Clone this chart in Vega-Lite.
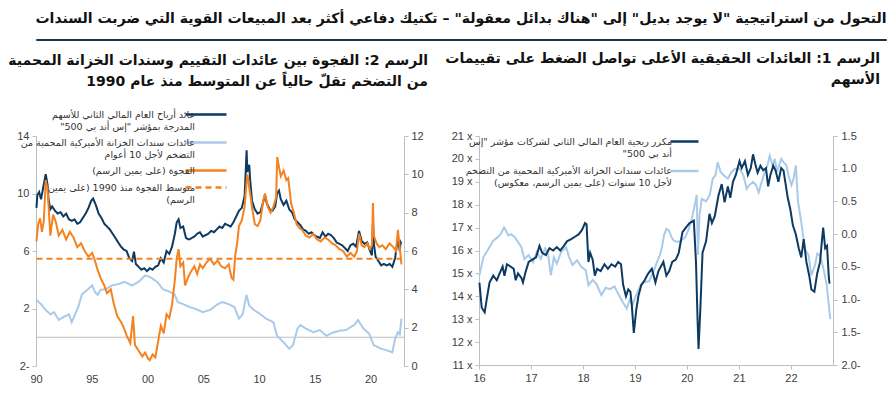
{
  "$schema": "https://vega.github.io/schema/vega-lite/v6.json",
  "padding": {"left": 8, "top": 12, "right": 4, "bottom": 4},
  "background": "white",
  "title": {
    "text": "التحول من استراتيجية \"لا يوجد بديل\" إلى \"هناك بدائل معقولة\" – تكتيك دفاعي أكثر بعد المبيعات القوية التي ضربت السندات",
    "anchor": "end", "font": "DejaVu Sans", "fontSize": 14.05, "fontWeight": "bold", "color": "#111111", "offset": 10
  },
  "config": {
    "view": {"stroke": null},
    "axis": {"grid": false, "title": null, "domainColor": "#bfbfbf", "tickColor": "#bfbfbf", "labelColor": "#404040", "labelFont": "Liberation Sans", "labelFontSize": 11, "tickSize": 4, "labelPadding": 3}
  },
  "datasets": {
    "left": [
      {"date":"1990-01-15","series":"ey","value":9.0},{"date":"1990-02-15","series":"ey","value":9.9},{"date":"1990-04-15","series":"ey","value":10.1},{"date":"1990-06-15","series":"ey","value":9.6},{"date":"1990-08-15","series":"ey","value":10.3},{"date":"1990-10-15","series":"ey","value":11.0},{"date":"1990-11-15","series":"ey","value":11.35},{"date":"1991-01-15","series":"ey","value":10.6},{"date":"1991-02-15","series":"ey","value":9.6},{"date":"1991-04-15","series":"ey","value":8.9},{"date":"1991-06-15","series":"ey","value":9.1},{"date":"1991-09-15","series":"ey","value":8.8},{"date":"1991-12-15","series":"ey","value":8.6},{"date":"1992-03-15","series":"ey","value":8.7},{"date":"1992-06-15","series":"ey","value":8.4},{"date":"1992-09-15","series":"ey","value":8.6},{"date":"1992-12-15","series":"ey","value":8.2},{"date":"1993-03-15","series":"ey","value":8.1},{"date":"1993-06-15","series":"ey","value":8.2},{"date":"1993-09-15","series":"ey","value":7.9},{"date":"1993-12-15","series":"ey","value":8.0},{"date":"1994-03-15","series":"ey","value":8.3},{"date":"1994-06-15","series":"ey","value":8.6},{"date":"1994-09-15","series":"ey","value":9.0},{"date":"1994-12-15","series":"ey","value":9.5},{"date":"1995-02-15","series":"ey","value":9.65},{"date":"1995-05-15","series":"ey","value":9.2},{"date":"1995-08-15","series":"ey","value":8.6},{"date":"1995-11-15","series":"ey","value":8.3},{"date":"1996-02-15","series":"ey","value":7.9},{"date":"1996-05-15","series":"ey","value":7.7},{"date":"1996-08-15","series":"ey","value":7.5},{"date":"1996-11-15","series":"ey","value":7.2},{"date":"1997-02-15","series":"ey","value":6.9},{"date":"1997-05-15","series":"ey","value":6.6},{"date":"1997-08-15","series":"ey","value":6.3},{"date":"1997-11-15","series":"ey","value":6.1},{"date":"1998-02-15","series":"ey","value":6.0},{"date":"1998-05-15","series":"ey","value":5.5},{"date":"1998-08-15","series":"ey","value":5.3},{"date":"1998-10-15","series":"ey","value":5.95},{"date":"1998-12-15","series":"ey","value":5.1},{"date":"1999-03-15","series":"ey","value":4.9},{"date":"1999-06-15","series":"ey","value":4.7},{"date":"1999-09-15","series":"ey","value":4.8},{"date":"1999-12-15","series":"ey","value":4.6},{"date":"2000-03-15","series":"ey","value":4.8},{"date":"2000-06-15","series":"ey","value":4.7},{"date":"2000-09-15","series":"ey","value":4.9},{"date":"2000-12-15","series":"ey","value":5.0},{"date":"2001-03-15","series":"ey","value":5.5},{"date":"2001-06-15","series":"ey","value":5.2},{"date":"2001-09-15","series":"ey","value":6.0},{"date":"2001-12-15","series":"ey","value":5.8},{"date":"2002-03-15","series":"ey","value":6.3},{"date":"2002-06-15","series":"ey","value":7.2},{"date":"2002-08-15","series":"ey","value":8.0},{"date":"2002-10-15","series":"ey","value":8.2},{"date":"2002-12-15","series":"ey","value":7.6},{"date":"2003-03-15","series":"ey","value":7.7},{"date":"2003-06-15","series":"ey","value":6.9},{"date":"2003-09-15","series":"ey","value":6.8},{"date":"2003-12-15","series":"ey","value":6.9},{"date":"2004-03-15","series":"ey","value":7.0},{"date":"2004-06-15","series":"ey","value":7.2},{"date":"2004-09-15","series":"ey","value":7.3},{"date":"2004-12-15","series":"ey","value":7.0},{"date":"2005-03-15","series":"ey","value":7.1},{"date":"2005-06-15","series":"ey","value":7.2},{"date":"2005-09-15","series":"ey","value":7.4},{"date":"2005-12-15","series":"ey","value":7.3},{"date":"2006-03-15","series":"ey","value":7.5},{"date":"2006-06-15","series":"ey","value":7.7},{"date":"2006-09-15","series":"ey","value":7.6},{"date":"2006-12-15","series":"ey","value":7.9},{"date":"2007-03-15","series":"ey","value":7.8},{"date":"2007-06-15","series":"ey","value":7.7},{"date":"2007-09-15","series":"ey","value":8.0},{"date":"2007-12-15","series":"ey","value":8.4},{"date":"2008-03-15","series":"ey","value":8.8},{"date":"2008-06-15","series":"ey","value":9.0},{"date":"2008-09-15","series":"ey","value":9.8},{"date":"2008-10-15","series":"ey","value":11.2},{"date":"2008-11-20","series":"ey","value":13.0},{"date":"2008-12-15","series":"ey","value":11.5},{"date":"2009-02-15","series":"ey","value":12.0},{"date":"2009-03-15","series":"ey","value":11.0},{"date":"2009-05-15","series":"ey","value":9.5},{"date":"2009-08-15","series":"ey","value":8.9},{"date":"2009-11-15","series":"ey","value":8.6},{"date":"2010-02-15","series":"ey","value":8.7},{"date":"2010-05-15","series":"ey","value":9.4},{"date":"2010-07-15","series":"ey","value":9.9},{"date":"2010-09-15","series":"ey","value":9.3},{"date":"2010-12-15","series":"ey","value":8.9},{"date":"2011-03-15","series":"ey","value":8.8},{"date":"2011-06-15","series":"ey","value":9.1},{"date":"2011-08-15","series":"ey","value":10.0},{"date":"2011-10-15","series":"ey","value":10.2},{"date":"2011-12-15","series":"ey","value":9.6},{"date":"2012-03-15","series":"ey","value":9.2},{"date":"2012-06-15","series":"ey","value":9.5},{"date":"2012-09-15","series":"ey","value":8.9},{"date":"2012-12-15","series":"ey","value":8.7},{"date":"2013-03-15","series":"ey","value":8.2},{"date":"2013-06-15","series":"ey","value":8.0},{"date":"2013-09-15","series":"ey","value":7.8},{"date":"2013-12-15","series":"ey","value":7.5},{"date":"2014-03-15","series":"ey","value":7.4},{"date":"2014-06-15","series":"ey","value":7.2},{"date":"2014-09-15","series":"ey","value":7.3},{"date":"2014-12-15","series":"ey","value":7.1},{"date":"2015-03-15","series":"ey","value":7.0},{"date":"2015-06-15","series":"ey","value":6.9},{"date":"2015-09-15","series":"ey","value":7.3},{"date":"2015-12-15","series":"ey","value":7.0},{"date":"2016-03-15","series":"ey","value":7.2},{"date":"2016-06-15","series":"ey","value":7.1},{"date":"2016-09-15","series":"ey","value":6.9},{"date":"2016-12-15","series":"ey","value":6.6},{"date":"2017-03-15","series":"ey","value":6.5},{"date":"2017-06-15","series":"ey","value":6.4},{"date":"2017-09-15","series":"ey","value":6.2},{"date":"2017-12-15","series":"ey","value":6.0},{"date":"2018-03-15","series":"ey","value":6.4},{"date":"2018-06-15","series":"ey","value":6.5},{"date":"2018-09-15","series":"ey","value":6.3},{"date":"2018-12-20","series":"ey","value":7.4},{"date":"2019-03-15","series":"ey","value":6.7},{"date":"2019-06-15","series":"ey","value":6.5},{"date":"2019-09-15","series":"ey","value":6.6},{"date":"2019-12-15","series":"ey","value":6.0},{"date":"2020-02-15","series":"ey","value":5.7},{"date":"2020-03-20","series":"ey","value":7.9},{"date":"2020-04-20","series":"ey","value":6.5},{"date":"2020-06-15","series":"ey","value":5.6},{"date":"2020-09-15","series":"ey","value":5.3},{"date":"2020-12-15","series":"ey","value":5.0},{"date":"2021-03-15","series":"ey","value":5.1},{"date":"2021-06-15","series":"ey","value":5.0},{"date":"2021-09-15","series":"ey","value":5.1},{"date":"2021-12-15","series":"ey","value":4.9},{"date":"2022-03-15","series":"ey","value":5.5},{"date":"2022-06-15","series":"ey","value":6.9},{"date":"2022-08-15","series":"ey","value":6.0},{"date":"2022-09-15","series":"ey","value":6.6},{"date":"2022-10-10","series":"ey","value":6.5},
      {"date":"1990-01-15","series":"tips","value":2.6},{"date":"1990-06-15","series":"tips","value":2.3},{"date":"1990-11-15","series":"tips","value":1.9},{"date":"1991-04-15","series":"tips","value":1.6},{"date":"1991-08-15","series":"tips","value":1.75},{"date":"1992-01-15","series":"tips","value":1.2},{"date":"1992-06-15","series":"tips","value":1.4},{"date":"1992-12-15","series":"tips","value":1.6},{"date":"1993-03-15","series":"tips","value":1.05},{"date":"1993-06-15","series":"tips","value":1.5},{"date":"1993-10-15","series":"tips","value":2.1},{"date":"1994-02-15","series":"tips","value":3.0},{"date":"1994-07-15","series":"tips","value":3.25},{"date":"1995-01-15","series":"tips","value":3.6},{"date":"1995-04-15","series":"tips","value":3.15},{"date":"1995-07-15","series":"tips","value":2.95},{"date":"1995-10-15","series":"tips","value":3.3},{"date":"1996-04-15","series":"tips","value":3.35},{"date":"1996-10-15","series":"tips","value":3.6},{"date":"1997-05-15","series":"tips","value":3.7},{"date":"1997-12-15","series":"tips","value":3.85},{"date":"1998-08-15","series":"tips","value":3.6},{"date":"1999-03-15","series":"tips","value":3.85},{"date":"1999-10-15","series":"tips","value":4.3},{"date":"2000-03-15","series":"tips","value":4.2},{"date":"2000-11-15","series":"tips","value":3.85},{"date":"2001-05-15","series":"tips","value":3.35},{"date":"2002-01-15","series":"tips","value":3.15},{"date":"2002-06-15","series":"tips","value":2.95},{"date":"2002-09-15","series":"tips","value":2.45},{"date":"2003-03-15","series":"tips","value":2.3},{"date":"2003-10-15","series":"tips","value":2.1},{"date":"2004-05-15","series":"tips","value":1.95},{"date":"2004-12-15","series":"tips","value":1.75},{"date":"2005-08-15","series":"tips","value":1.9},{"date":"2006-03-15","series":"tips","value":2.25},{"date":"2006-09-15","series":"tips","value":2.45},{"date":"2007-04-15","series":"tips","value":2.3},{"date":"2007-10-15","series":"tips","value":2.1},{"date":"2008-03-15","series":"tips","value":1.3},{"date":"2008-07-15","series":"tips","value":1.6},{"date":"2008-11-15","series":"tips","value":2.95},{"date":"2009-02-15","series":"tips","value":2.2},{"date":"2009-07-15","series":"tips","value":1.9},{"date":"2010-02-15","series":"tips","value":1.6},{"date":"2010-08-15","series":"tips","value":1.3},{"date":"2011-04-15","series":"tips","value":1.05},{"date":"2011-08-15","series":"tips","value":0.1},{"date":"2012-03-15","series":"tips","value":-0.35},{"date":"2012-09-15","series":"tips","value":-0.8},{"date":"2013-01-15","series":"tips","value":-0.55},{"date":"2013-06-15","series":"tips","value":0.6},{"date":"2013-09-15","series":"tips","value":0.85},{"date":"2014-03-15","series":"tips","value":0.6},{"date":"2014-11-15","series":"tips","value":0.35},{"date":"2015-06-15","series":"tips","value":0.5},{"date":"2016-01-15","series":"tips","value":0.1},{"date":"2016-07-15","series":"tips","value":0.3},{"date":"2017-03-15","series":"tips","value":0.45},{"date":"2017-10-15","series":"tips","value":0.5},{"date":"2018-07-15","series":"tips","value":0.85},{"date":"2018-11-15","series":"tips","value":1.2},{"date":"2019-05-15","series":"tips","value":0.6},{"date":"2019-11-15","series":"tips","value":0.25},{"date":"2020-04-15","series":"tips","value":-0.55},{"date":"2020-12-15","series":"tips","value":-0.8},{"date":"2021-06-15","series":"tips","value":-0.9},{"date":"2021-12-15","series":"tips","value":-1.05},{"date":"2022-03-15","series":"tips","value":-0.1},{"date":"2022-06-15","series":"tips","value":0.35},{"date":"2022-08-15","series":"tips","value":0.2},{"date":"2022-10-10","series":"tips","value":1.3},
      {"date":"1990-01-15","series":"gap","value":6.5},{"date":"1990-03-15","series":"gap","value":7.4},{"date":"1990-05-15","series":"gap","value":7.7},{"date":"1990-07-15","series":"gap","value":7.0},{"date":"1990-09-15","series":"gap","value":7.6},{"date":"1990-11-15","series":"gap","value":9.7},{"date":"1991-01-15","series":"gap","value":9.2},{"date":"1991-02-15","series":"gap","value":8.4},{"date":"1991-04-15","series":"gap","value":6.8},{"date":"1991-07-15","series":"gap","value":7.9},{"date":"1991-10-15","series":"gap","value":7.5},{"date":"1992-01-15","series":"gap","value":6.8},{"date":"1992-05-15","series":"gap","value":7.1},{"date":"1992-09-15","series":"gap","value":6.6},{"date":"1993-01-15","series":"gap","value":7.0},{"date":"1993-05-15","series":"gap","value":6.7},{"date":"1993-09-15","series":"gap","value":6.2},{"date":"1994-01-15","series":"gap","value":6.4},{"date":"1994-05-15","series":"gap","value":6.0},{"date":"1994-09-15","series":"gap","value":5.7},{"date":"1995-01-15","series":"gap","value":5.9},{"date":"1995-04-15","series":"gap","value":5.5},{"date":"1995-07-15","series":"gap","value":5.0},{"date":"1995-10-15","series":"gap","value":4.6},{"date":"1996-02-15","series":"gap","value":4.2},{"date":"1996-05-15","series":"gap","value":3.8},{"date":"1996-09-15","series":"gap","value":4.0},{"date":"1996-12-15","series":"gap","value":3.3},{"date":"1997-04-15","series":"gap","value":2.6},{"date":"1997-08-15","series":"gap","value":2.3},{"date":"1997-11-15","series":"gap","value":2.0},{"date":"1998-02-15","series":"gap","value":1.6},{"date":"1998-06-15","series":"gap","value":1.2},{"date":"1998-09-15","series":"gap","value":2.6},{"date":"1998-11-15","series":"gap","value":1.1},{"date":"1999-03-15","series":"gap","value":0.8},{"date":"1999-07-15","series":"gap","value":0.5},{"date":"1999-10-15","series":"gap","value":0.7},{"date":"2000-01-15","series":"gap","value":0.4},{"date":"2000-03-15","series":"gap","value":0.3},{"date":"2000-06-15","series":"gap","value":0.6},{"date":"2000-09-15","series":"gap","value":0.45},{"date":"2000-12-15","series":"gap","value":1.3},{"date":"2001-03-15","series":"gap","value":2.1},{"date":"2001-06-15","series":"gap","value":1.7},{"date":"2001-09-15","series":"gap","value":2.7},{"date":"2001-12-15","series":"gap","value":2.5},{"date":"2002-03-15","series":"gap","value":3.2},{"date":"2002-06-15","series":"gap","value":4.5},{"date":"2002-08-15","series":"gap","value":5.6},{"date":"2002-10-15","series":"gap","value":6.1},{"date":"2002-12-15","series":"gap","value":5.2},{"date":"2003-03-15","series":"gap","value":5.4},{"date":"2003-05-15","series":"gap","value":4.2},{"date":"2003-08-15","series":"gap","value":4.6},{"date":"2003-11-15","series":"gap","value":4.9},{"date":"2004-03-15","series":"gap","value":5.2},{"date":"2004-06-15","series":"gap","value":4.8},{"date":"2004-09-15","series":"gap","value":5.3},{"date":"2004-12-15","series":"gap","value":5.1},{"date":"2005-04-15","series":"gap","value":5.4},{"date":"2005-08-15","series":"gap","value":5.6},{"date":"2005-12-15","series":"gap","value":5.3},{"date":"2006-04-15","series":"gap","value":5.5},{"date":"2006-08-15","series":"gap","value":5.2},{"date":"2006-12-15","series":"gap","value":5.1},{"date":"2007-04-15","series":"gap","value":5.3},{"date":"2007-07-15","series":"gap","value":4.6},{"date":"2007-09-15","series":"gap","value":4.5},{"date":"2007-11-15","series":"gap","value":5.8},{"date":"2008-01-15","series":"gap","value":6.4},{"date":"2008-03-15","series":"gap","value":7.3},{"date":"2008-06-15","series":"gap","value":7.6},{"date":"2008-09-15","series":"gap","value":8.3},{"date":"2008-11-15","series":"gap","value":9.5},{"date":"2008-12-15","series":"gap","value":10.0},{"date":"2009-03-15","series":"gap","value":9.0},{"date":"2009-05-15","series":"gap","value":8.3},{"date":"2009-08-15","series":"gap","value":7.4},{"date":"2009-11-15","series":"gap","value":7.3},{"date":"2010-02-15","series":"gap","value":7.6},{"date":"2010-05-15","series":"gap","value":8.6},{"date":"2010-07-15","series":"gap","value":9.0},{"date":"2010-10-15","series":"gap","value":8.3},{"date":"2011-01-15","series":"gap","value":8.0},{"date":"2011-04-15","series":"gap","value":8.3},{"date":"2011-07-15","series":"gap","value":8.8},{"date":"2011-08-20","series":"gap","value":10.9},{"date":"2011-10-15","series":"gap","value":10.4},{"date":"2011-12-15","series":"gap","value":9.9},{"date":"2012-03-15","series":"gap","value":10.2},{"date":"2012-06-15","series":"gap","value":9.7},{"date":"2012-08-15","series":"gap","value":9.8},{"date":"2012-11-15","series":"gap","value":8.5},{"date":"2013-02-15","series":"gap","value":8.0},{"date":"2013-05-15","series":"gap","value":7.4},{"date":"2013-08-15","series":"gap","value":7.2},{"date":"2013-11-15","series":"gap","value":7.1},{"date":"2014-03-15","series":"gap","value":6.8},{"date":"2014-07-15","series":"gap","value":6.7},{"date":"2014-11-15","series":"gap","value":6.9},{"date":"2015-03-15","series":"gap","value":6.6},{"date":"2015-07-15","series":"gap","value":6.5},{"date":"2015-11-15","series":"gap","value":6.7},{"date":"2016-03-15","series":"gap","value":6.6},{"date":"2016-07-15","series":"gap","value":6.4},{"date":"2016-11-15","series":"gap","value":6.3},{"date":"2017-03-15","series":"gap","value":6.1},{"date":"2017-07-15","series":"gap","value":6.0},{"date":"2017-11-15","series":"gap","value":5.7},{"date":"2018-03-15","series":"gap","value":5.9},{"date":"2018-07-15","series":"gap","value":5.7},{"date":"2018-10-15","series":"gap","value":6.0},{"date":"2018-12-20","series":"gap","value":6.9},{"date":"2019-03-15","series":"gap","value":6.3},{"date":"2019-06-15","series":"gap","value":6.2},{"date":"2019-09-15","series":"gap","value":6.4},{"date":"2019-12-15","series":"gap","value":6.1},{"date":"2020-02-15","series":"gap","value":6.3},{"date":"2020-03-20","series":"gap","value":8.5},{"date":"2020-04-20","series":"gap","value":6.8},{"date":"2020-07-15","series":"gap","value":6.4},{"date":"2020-10-15","series":"gap","value":6.2},{"date":"2021-01-15","series":"gap","value":6.3},{"date":"2021-05-15","series":"gap","value":6.1},{"date":"2021-09-15","series":"gap","value":6.4},{"date":"2022-01-15","series":"gap","value":6.2},{"date":"2022-04-15","series":"gap","value":6.0},{"date":"2022-06-15","series":"gap","value":7.1},{"date":"2022-08-15","series":"gap","value":6.2},{"date":"2022-09-15","series":"gap","value":5.7},{"date":"2022-10-10","series":"gap","value":5.3},
      {"date":"1990-01-15","series":"avg","value":5.6},{"date":"2022-10-10","series":"avg","value":5.6}
    ],
    "right": [
      {"date":"2016-01-04","series":"pe","value":14.6},{"date":"2016-01-20","series":"pe","value":13.5},{"date":"2016-02-10","series":"pe","value":13.3},{"date":"2016-02-25","series":"pe","value":13.9},{"date":"2016-03-15","series":"pe","value":14.6},{"date":"2016-04-10","series":"pe","value":14.9},{"date":"2016-05-05","series":"pe","value":14.7},{"date":"2016-05-25","series":"pe","value":15.0},{"date":"2016-06-15","series":"pe","value":15.3},{"date":"2016-06-28","series":"pe","value":14.9},{"date":"2016-07-15","series":"pe","value":15.4},{"date":"2016-08-10","series":"pe","value":15.3},{"date":"2016-09-01","series":"pe","value":15.2},{"date":"2016-09-15","series":"pe","value":14.7},{"date":"2016-10-01","series":"pe","value":15.0},{"date":"2016-10-25","series":"pe","value":14.8},{"date":"2016-11-05","series":"pe","value":14.6},{"date":"2016-11-25","series":"pe","value":15.1},{"date":"2016-12-15","series":"pe","value":15.5},{"date":"2017-01-10","series":"pe","value":15.6},{"date":"2017-02-05","series":"pe","value":15.7},{"date":"2017-03-01","series":"pe","value":16.2},{"date":"2017-03-20","series":"pe","value":15.9},{"date":"2017-04-15","series":"pe","value":15.8},{"date":"2017-05-10","series":"pe","value":16.1},{"date":"2017-06-05","series":"pe","value":16.0},{"date":"2017-07-01","series":"pe","value":16.15},{"date":"2017-07-25","series":"pe","value":16.0},{"date":"2017-08-20","series":"pe","value":16.2},{"date":"2017-09-10","series":"pe","value":16.4},{"date":"2017-10-10","series":"pe","value":16.5},{"date":"2017-11-05","series":"pe","value":16.6},{"date":"2017-12-01","series":"pe","value":16.7},{"date":"2017-12-25","series":"pe","value":16.9},{"date":"2018-01-15","series":"pe","value":17.2},{"date":"2018-01-26","series":"pe","value":17.15},{"date":"2018-02-08","series":"pe","value":15.5},{"date":"2018-02-20","series":"pe","value":15.9},{"date":"2018-03-10","series":"pe","value":15.6},{"date":"2018-03-25","series":"pe","value":14.9},{"date":"2018-04-10","series":"pe","value":15.2},{"date":"2018-05-05","series":"pe","value":15.1},{"date":"2018-06-01","series":"pe","value":15.4},{"date":"2018-06-25","series":"pe","value":15.2},{"date":"2018-07-20","series":"pe","value":15.4},{"date":"2018-08-15","series":"pe","value":15.3},{"date":"2018-09-05","series":"pe","value":15.5},{"date":"2018-09-25","series":"pe","value":15.4},{"date":"2018-10-10","series":"pe","value":14.5},{"date":"2018-10-30","series":"pe","value":14.0},{"date":"2018-11-15","series":"pe","value":14.3},{"date":"2018-11-30","series":"pe","value":14.2},{"date":"2018-12-10","series":"pe","value":13.6},{"date":"2018-12-24","series":"pe","value":12.4},{"date":"2019-01-10","series":"pe","value":13.4},{"date":"2019-01-25","series":"pe","value":14.0},{"date":"2019-02-15","series":"pe","value":14.5},{"date":"2019-03-10","series":"pe","value":14.7},{"date":"2019-04-05","series":"pe","value":15.0},{"date":"2019-04-30","series":"pe","value":15.2},{"date":"2019-05-25","series":"pe","value":14.6},{"date":"2019-06-15","series":"pe","value":15.1},{"date":"2019-07-20","series":"pe","value":15.5},{"date":"2019-08-10","series":"pe","value":14.9},{"date":"2019-08-30","series":"pe","value":15.1},{"date":"2019-09-20","series":"pe","value":15.5},{"date":"2019-10-15","series":"pe","value":15.6},{"date":"2019-11-05","series":"pe","value":15.9},{"date":"2019-12-01","series":"pe","value":16.8},{"date":"2019-12-25","series":"pe","value":17.0},{"date":"2020-01-20","series":"pe","value":17.2},{"date":"2020-02-19","series":"pe","value":17.3},{"date":"2020-03-05","series":"pe","value":15.5},{"date":"2020-03-16","series":"pe","value":13.0},{"date":"2020-03-23","series":"pe","value":11.7},{"date":"2020-04-05","series":"pe","value":13.5},{"date":"2020-04-20","series":"pe","value":15.9},{"date":"2020-05-15","series":"pe","value":16.4},{"date":"2020-06-08","series":"pe","value":17.6},{"date":"2020-06-25","series":"pe","value":17.2},{"date":"2020-07-15","series":"pe","value":17.5},{"date":"2020-08-10","series":"pe","value":18.4},{"date":"2020-09-02","series":"pe","value":18.9},{"date":"2020-09-22","series":"pe","value":18.1},{"date":"2020-10-15","series":"pe","value":18.8},{"date":"2020-11-01","series":"pe","value":18.3},{"date":"2020-11-20","series":"pe","value":19.0},{"date":"2020-12-10","series":"pe","value":19.3},{"date":"2021-01-05","series":"pe","value":19.9},{"date":"2021-01-20","series":"pe","value":19.6},{"date":"2021-02-12","series":"pe","value":19.9},{"date":"2021-03-05","series":"pe","value":19.3},{"date":"2021-03-25","series":"pe","value":19.6},{"date":"2021-04-10","series":"pe","value":20.2},{"date":"2021-04-25","series":"pe","value":19.8},{"date":"2021-05-12","series":"pe","value":19.4},{"date":"2021-06-01","series":"pe","value":19.7},{"date":"2021-06-20","series":"pe","value":19.5},{"date":"2021-07-10","series":"pe","value":19.6},{"date":"2021-07-25","series":"pe","value":18.8},{"date":"2021-08-10","series":"pe","value":19.3},{"date":"2021-08-30","series":"pe","value":19.7},{"date":"2021-09-15","series":"pe","value":19.5},{"date":"2021-10-05","series":"pe","value":19.0},{"date":"2021-10-25","series":"pe","value":19.6},{"date":"2021-11-10","series":"pe","value":19.5},{"date":"2021-11-25","series":"pe","value":18.9},{"date":"2021-12-10","series":"pe","value":18.3},{"date":"2021-12-28","series":"pe","value":17.8},{"date":"2022-01-15","series":"pe","value":17.1},{"date":"2022-02-05","series":"pe","value":16.7},{"date":"2022-02-25","series":"pe","value":16.1},{"date":"2022-03-15","series":"pe","value":15.7},{"date":"2022-04-01","series":"pe","value":16.5},{"date":"2022-04-20","series":"pe","value":15.5},{"date":"2022-05-10","series":"pe","value":14.9},{"date":"2022-05-25","series":"pe","value":14.3},{"date":"2022-06-15","series":"pe","value":14.2},{"date":"2022-07-05","series":"pe","value":15.0},{"date":"2022-07-25","series":"pe","value":15.5},{"date":"2022-08-08","series":"pe","value":16.5},{"date":"2022-08-16","series":"pe","value":17.0},{"date":"2022-08-30","series":"pe","value":16.1},{"date":"2022-09-12","series":"pe","value":16.2},{"date":"2022-09-25","series":"pe","value":14.8},{"date":"2022-09-30","series":"pe","value":14.55},
      {"date":"2016-01-04","series":"tips2","value":-0.63},{"date":"2016-02-01","series":"tips2","value":-0.35},{"date":"2016-03-01","series":"tips2","value":-0.25},{"date":"2016-04-10","series":"tips2","value":-0.1},{"date":"2016-05-10","series":"tips2","value":-0.05},{"date":"2016-06-01","series":"tips2","value":0.0},{"date":"2016-06-25","series":"tips2","value":0.1},{"date":"2016-07-10","series":"tips2","value":0.05},{"date":"2016-07-25","series":"tips2","value":-0.02},{"date":"2016-08-15","series":"tips2","value":0.0},{"date":"2016-09-10","series":"tips2","value":-0.05},{"date":"2016-10-01","series":"tips2","value":-0.12},{"date":"2016-10-25","series":"tips2","value":-0.2},{"date":"2016-11-15","series":"tips2","value":-0.38},{"date":"2016-12-15","series":"tips2","value":-0.32},{"date":"2017-01-15","series":"tips2","value":-0.43},{"date":"2017-02-10","series":"tips2","value":-0.27},{"date":"2017-03-10","series":"tips2","value":-0.38},{"date":"2017-04-10","series":"tips2","value":-0.22},{"date":"2017-05-01","series":"tips2","value":-0.32},{"date":"2017-05-20","series":"tips2","value":-0.63},{"date":"2017-06-10","series":"tips2","value":-0.35},{"date":"2017-07-01","series":"tips2","value":-0.45},{"date":"2017-08-01","series":"tips2","value":-0.27},{"date":"2017-09-05","series":"tips2","value":-0.2},{"date":"2017-09-25","series":"tips2","value":-0.35},{"date":"2017-10-20","series":"tips2","value":-0.47},{"date":"2017-11-20","series":"tips2","value":-0.4},{"date":"2017-12-20","series":"tips2","value":-0.5},{"date":"2018-01-20","series":"tips2","value":-0.55},{"date":"2018-02-08","series":"tips2","value":-0.78},{"date":"2018-03-10","series":"tips2","value":-0.7},{"date":"2018-04-05","series":"tips2","value":-0.76},{"date":"2018-05-10","series":"tips2","value":-0.93},{"date":"2018-06-10","series":"tips2","value":-0.82},{"date":"2018-07-10","series":"tips2","value":-0.84},{"date":"2018-08-10","series":"tips2","value":-0.8},{"date":"2018-09-10","series":"tips2","value":-0.93},{"date":"2018-10-10","series":"tips2","value":-1.05},{"date":"2018-11-05","series":"tips2","value":-1.14},{"date":"2018-11-25","series":"tips2","value":-1.0},{"date":"2018-12-15","series":"tips2","value":-1.08},{"date":"2019-01-10","series":"tips2","value":-0.93},{"date":"2019-02-10","series":"tips2","value":-0.78},{"date":"2019-03-10","series":"tips2","value":-0.73},{"date":"2019-04-10","series":"tips2","value":-0.72},{"date":"2019-05-10","series":"tips2","value":-0.58},{"date":"2019-06-01","series":"tips2","value":-0.45},{"date":"2019-06-25","series":"tips2","value":-0.32},{"date":"2019-07-10","series":"tips2","value":-0.2},{"date":"2019-07-25","series":"tips2","value":-0.01},{"date":"2019-08-10","series":"tips2","value":0.08},{"date":"2019-08-30","series":"tips2","value":0.05},{"date":"2019-09-15","series":"tips2","value":-0.05},{"date":"2019-10-01","series":"tips2","value":-0.1},{"date":"2019-10-30","series":"tips2","value":-0.12},{"date":"2019-11-20","series":"tips2","value":-0.1},{"date":"2019-12-20","series":"tips2","value":-0.05},{"date":"2020-01-15","series":"tips2","value":0.08},{"date":"2020-02-01","series":"tips2","value":0.2},{"date":"2020-02-15","series":"tips2","value":0.34},{"date":"2020-03-01","series":"tips2","value":0.49},{"date":"2020-03-10","series":"tips2","value":0.6},{"date":"2020-03-19","series":"tips2","value":-0.32},{"date":"2020-03-30","series":"tips2","value":0.3},{"date":"2020-04-15","series":"tips2","value":0.54},{"date":"2020-05-15","series":"tips2","value":0.5},{"date":"2020-06-10","series":"tips2","value":0.6},{"date":"2020-07-01","series":"tips2","value":0.85},{"date":"2020-07-20","series":"tips2","value":0.9},{"date":"2020-08-05","series":"tips2","value":1.1},{"date":"2020-08-25","series":"tips2","value":0.95},{"date":"2020-09-15","series":"tips2","value":0.9},{"date":"2020-10-15","series":"tips2","value":0.85},{"date":"2020-11-10","series":"tips2","value":0.95},{"date":"2020-12-05","series":"tips2","value":1.0},{"date":"2021-01-05","series":"tips2","value":1.0},{"date":"2021-02-01","series":"tips2","value":0.9},{"date":"2021-02-25","series":"tips2","value":0.69},{"date":"2021-03-15","series":"tips2","value":0.75},{"date":"2021-04-10","series":"tips2","value":0.8},{"date":"2021-05-01","series":"tips2","value":0.75},{"date":"2021-05-20","series":"tips2","value":0.64},{"date":"2021-06-10","series":"tips2","value":0.8},{"date":"2021-07-01","series":"tips2","value":0.95},{"date":"2021-07-20","series":"tips2","value":1.05},{"date":"2021-08-05","series":"tips2","value":1.2},{"date":"2021-08-25","series":"tips2","value":1.05},{"date":"2021-09-10","series":"tips2","value":1.15},{"date":"2021-09-25","series":"tips2","value":0.95},{"date":"2021-10-10","series":"tips2","value":1.05},{"date":"2021-10-25","series":"tips2","value":1.15},{"date":"2021-11-10","series":"tips2","value":1.1},{"date":"2021-12-01","series":"tips2","value":1.05},{"date":"2021-12-15","series":"tips2","value":0.9},{"date":"2022-01-05","series":"tips2","value":0.75},{"date":"2022-01-20","series":"tips2","value":0.85},{"date":"2022-02-05","series":"tips2","value":1.05},{"date":"2022-02-20","series":"tips2","value":0.5},{"date":"2022-03-15","series":"tips2","value":0.18},{"date":"2022-04-10","series":"tips2","value":-0.23},{"date":"2022-05-05","series":"tips2","value":-0.32},{"date":"2022-05-25","series":"tips2","value":-0.63},{"date":"2022-06-20","series":"tips2","value":-0.47},{"date":"2022-07-05","series":"tips2","value":-0.3},{"date":"2022-07-25","series":"tips2","value":-0.32},{"date":"2022-08-20","series":"tips2","value":-0.55},{"date":"2022-09-10","series":"tips2","value":-0.78},{"date":"2022-10-05","series":"tips2","value":-1.3}
    ]
  },
  "vconcat": [
    {
      "width": 850, "height": 1,
      "data": {"values": [{}]},
      "mark": {"type": "point", "opacity": 0},
      "encoding": {},
      "view": {"stroke": "#1b3446", "strokeWidth": 1}
    },
    {
      "hconcat": [
        {
          "width": 368, "height": 230,
          "data": {"name": "left"},
          "title": {
            "text": ["الرسم 2: الفجوة بين عائدات التقييم وسندات الخزانة المحمية", "من التضخم تقلّ حالياً عن المتوسط منذ عام 1990"],
            "anchor": "end", "frame": "group", "dx": 24, "font": "DejaVu Sans", "fontSize": 14, "fontWeight": "bold", "lineHeight": 21, "offset": 19, "color": "#111111"
          },
          "layer": [
            {
              "layer": [
                {
                  "data": {"values": [{}]},
                  "mark": {"type": "rule", "color": "#bfbfbf", "strokeWidth": 1},
                  "encoding": {"y": {"datum": 0, "type": "quantitative", "scale": {"domain": [-2, 14]}}}
                },
                {
                  "transform": [{"filter": "datum.series == 'tips'"}],
                  "mark": {"type": "line", "strokeWidth": 2},
                  "encoding": {
                    "x": {"field": "date", "type": "temporal", "scale": {"domain": ["1990-01-01", "2023-01-01"]},
                          "axis": {"values": [{"year": 1990}, {"year": 1995}, {"year": 2000}, {"year": 2005}, {"year": 2010}, {"year": 2015}, {"year": 2020}], "format": "%y", "labelFlush": false, "domain": false, "ticks": false, "labelPadding": 7}},
                    "y": {"field": "value", "type": "quantitative", "scale": {"domain": [-2, 14]},
                          "axis": {"orient": "left", "values": [-2, 0, 2, 4, 6, 8, 10, 12, 14], "labelExpr": "datum.value < 0 ? (-datum.value) + '-' : datum.label"}},
                    "color": {"field": "series", "type": "nominal",
                              "scale": {"domain": ["ey", "tips", "gap", "avg"], "range": ["#0c3a63", "#a9cbe9", "#f5821f", "#f5821f"]},
                              "legend": {"orient": "none", "legendX": 163.5, "legendY": -28, "title": null, "padding": 0,
                                         "symbolType": "M-4.1,0H4.1", "symbolSize": 100, "symbolStrokeWidth": 2.5,
                                         "labelFont": "DejaVu Sans", "labelFontSize": 9.5, "labelColor": "#333333", "labelAlign": "right", "labelOffset": -17.5, "labelBaseline": "top", "labelLimit": 400, "rowPadding": 5,
                                         "labelExpr": "datum.value == 'ey' ? ['\u200fعائد أرباح العام المالي الثاني للأسهم\u200f', '\u200fالمدرجة بمؤشر \"إس أند بي 500\"\u200f'] : datum.value == 'tips' ? ['\u200fعائدات سندات الخزانة الأميركية المحمية من\u200f', '\u200fالتضخم لأجل 10 أعوام\u200f'] : datum.value == 'gap' ? '\u200fالفجوة (على يمين الرسم)\u200f' : ['\u200fمتوسط الفجوة منذ 1990 (على يمين\u200f', '\u200fالرسم)\u200f']",
                                         "encode": {"labels": {"update": {"dy": {"value": -5}, "lineHeight": {"value": 12}}}}}},
                    "strokeDash": {"field": "series", "type": "nominal",
                                   "scale": {"domain": ["ey", "tips", "gap", "avg"], "range": [[1, 0], [1, 0], [1, 0], [6, 4]]},
                                   "legend": {"orient": "none", "legendX": 163.5, "legendY": -28, "title": null, "padding": 0,
                                         "symbolType": "M-4.1,0H4.1", "symbolSize": 100, "symbolStrokeWidth": 2.5,
                                         "labelFont": "DejaVu Sans", "labelFontSize": 9.5, "labelColor": "#333333", "labelAlign": "right", "labelOffset": -17.5, "labelBaseline": "top", "labelLimit": 400, "rowPadding": 5,
                                         "labelExpr": "datum.value == 'ey' ? ['\u200fعائد أرباح العام المالي الثاني للأسهم\u200f', '\u200fالمدرجة بمؤشر \"إس أند بي 500\"\u200f'] : datum.value == 'tips' ? ['\u200fعائدات سندات الخزانة الأميركية المحمية من\u200f', '\u200fالتضخم لأجل 10 أعوام\u200f'] : datum.value == 'gap' ? '\u200fالفجوة (على يمين الرسم)\u200f' : ['\u200fمتوسط الفجوة منذ 1990 (على يمين\u200f', '\u200fالرسم)\u200f']",
                                         "encode": {"labels": {"update": {"dy": {"value": -5}, "lineHeight": {"value": 12}}}}}}
                  }
                },
                {
                  "transform": [{"filter": "datum.series == 'ey'"}],
                  "mark": {"type": "line", "strokeWidth": 2},
                  "encoding": {
                    "x": {"field": "date", "type": "temporal"},
                    "y": {"field": "value", "type": "quantitative", "scale": {"domain": [-2, 14]}},
                    "color": {"field": "series", "type": "nominal"},
                    "strokeDash": {"field": "series", "type": "nominal"}
                  }
                }
              ]
            },
            {
              "transform": [{"filter": "datum.series == 'gap' || datum.series == 'avg'"}],
              "mark": {"type": "line", "strokeWidth": 2},
              "encoding": {
                "x": {"field": "date", "type": "temporal"},
                "y": {"field": "value", "type": "quantitative", "scale": {"domain": [0, 12]},
                      "axis": {"orient": "right", "values": [0, 2, 4, 6, 8, 10, 12]}},
                "color": {"field": "series", "type": "nominal"},
                "strokeDash": {"field": "series", "type": "nominal"}
              }
            }
          ],
          "resolve": {"scale": {"y": "independent"}}
        },
        {
          "width": 354, "height": 229,
          "data": {"name": "right"},
          "title": {
            "text": ["الرسم 1: العائدات الحقيقية الأعلى تواصل الضغط على تقييمات", "الأسهم"],
            "anchor": "end", "frame": "group", "dx": 47, "font": "DejaVu Sans", "fontSize": 14, "fontWeight": "bold", "lineHeight": 21, "offset": 43, "color": "#111111"
          },
          "encoding": {
            "x": {"field": "date", "type": "temporal", "scale": {"domain": ["2016-01-01", "2022-10-24"]},
                  "axis": {"values": [{"year": 2016}, {"year": 2017}, {"year": 2018}, {"year": 2019}, {"year": 2020}, {"year": 2021}, {"year": 2022}], "format": "%y", "labelFlush": false}},
            "color": {"field": "series", "type": "nominal",
                      "scale": {"domain": ["pe", "tips2"], "range": ["#0c3a63", "#a9cbe9"]},
                      "legend": {"orient": "none", "legendX": 199, "legendY": -1, "title": null, "padding": 0,
                                 "symbolType": "M-2.8,0H2.8", "symbolSize": 100, "symbolStrokeWidth": 2.5,
                                 "labelFont": "DejaVu Sans", "labelFontSize": 9.5, "labelColor": "#333333", "labelAlign": "right", "labelOffset": -19, "labelBaseline": "top", "labelLimit": 400, "rowPadding": 6.5,
                                 "labelExpr": "datum.value == 'pe' ? ['\u200fمكرر ربحية العام المالي الثاني لشركات مؤشر \"إس\u200f', '\u200fأند بي 500\"\u200f'] : ['\u200fعائدات سندات الخزانة الأميركية المحمية من التضخم\u200f', '\u200fلأجل 10 سنوات (على يمين الرسم، معكوس)\u200f']",
                                 "encode": {"labels": {"update": {"dy": {"value": -5}, "lineHeight": {"value": 12}}}}}}
          },
          "layer": [
            {
              "transform": [{"filter": "datum.series == 'tips2'"}],
              "mark": {"type": "line", "strokeWidth": 2},
              "encoding": {
                "y": {"field": "value", "type": "quantitative", "scale": {"domain": [-2, 1.5]},
                      "axis": {"orient": "right", "values": [-2, -1.5, -1, -0.5, 0, 0.5, 1, 1.5], "labelPadding": 4,
                               "labelExpr": "datum.value < 0 ? format(-datum.value, '.1f') + '-' : format(datum.value, '.1f')"}}
              }
            },
            {
              "transform": [{"filter": "datum.series == 'pe'"}],
              "mark": {"type": "line", "strokeWidth": 2},
              "encoding": {
                "y": {"field": "value", "type": "quantitative", "scale": {"domain": [11, 21]},
                      "axis": {"orient": "left", "values": [11, 12, 13, 14, 15, 16, 17, 18, 19, 20, 21], "labelExpr": "datum.value + ' x'"}}
              }
            }
          ],
          "resolve": {"scale": {"y": "independent"}}
        }
      ],
      "spacing": 75,
      "bounds": "flush",
      "resolve": {"scale": {"color": "independent", "strokeDash": "independent"}}
    }
  ],
  "spacing": 9
}
